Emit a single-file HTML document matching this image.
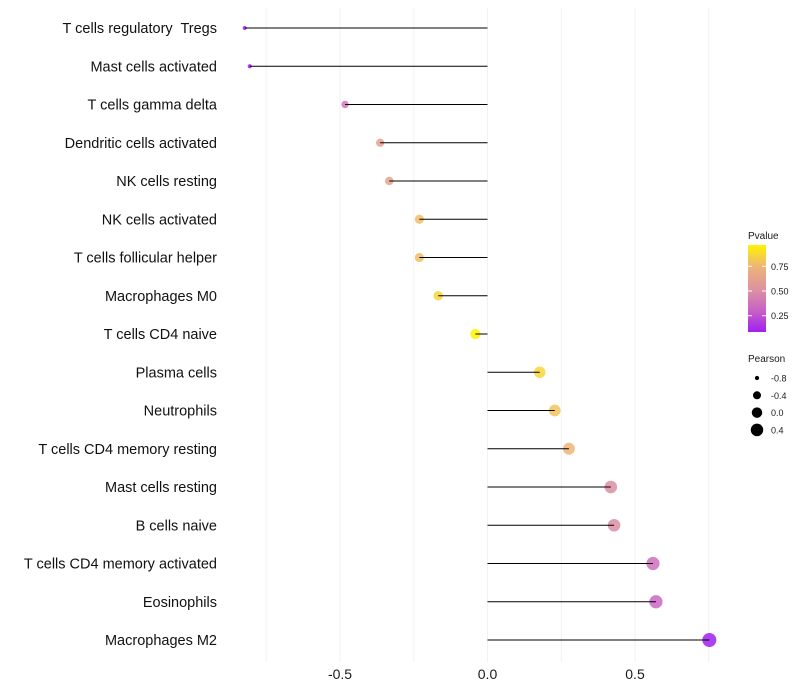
<!DOCTYPE html>
<html><head><meta charset="utf-8"><style>
body{margin:0;background:#fff}
svg{display:block;font-family:"Liberation Sans",sans-serif}
</style></head><body>
<svg id="chart" width="800" height="700"></svg>
<script>
const categories=["T cells regulatory  Tregs","Mast cells activated","T cells gamma delta","Dendritic cells activated","NK cells resting","NK cells activated","T cells follicular helper","Macrophages M0","T cells CD4 naive","Plasma cells","Neutrophils","T cells CD4 memory resting","Mast cells resting","B cells naive","T cells CD4 memory activated","Eosinophils","Macrophages M2"];
const pearson=[-0.823,-0.806,-0.483,-0.364,-0.333,-0.231,-0.231,-0.167,-0.041,0.177,0.228,0.276,0.418,0.429,0.561,0.571,0.752];
const pvalue=[0.08,0.08,0.4,0.62,0.64,0.78,0.78,0.86,0.97,0.86,0.8,0.74,0.5,0.5,0.36,0.33,0.09];
const xTicks=[-0.5,0,0.5];
const xTickLabels=["-0.5","0.0","0.5"];
const pTicks=[0.25,0.5,0.75];
const sizeLegend=[-0.8,-0.4,0.0,0.4];

const NS="http://www.w3.org/2000/svg";
const svg=document.getElementById('chart');
function mk(t,a,p){const e=document.createElementNS(NS,t);for(const k in a)e.setAttribute(k,a[k]);(p||svg).appendChild(e);return e;}
const x=v=>487.5+v*295;
const y=i=>28+i*38.25;
const r=v=>Math.sqrt(4+Math.max(0,(v+0.82))/1.57*45);
const stops=[[0.09,[160,32,240]],[0.3,[200,96,200]],[0.5,[220,143,164]],[0.75,[238,182,118]],[0.96,[255,242,0]]];
function col(p){if(p<=stops[0][0])return `rgb(${stops[0][1]})`;for(let i=1;i<stops.length;i++){if(p<=stops[i][0]){const a=stops[i-1],b=stops[i],t=(p-a[0])/(b[0]-a[0]);return `rgb(${a[1].map((c,j)=>Math.round(c+(b[1][j]-c)*t))})`;}}return `rgb(${stops[4][1]})`;}

[-0.75,-0.5,-0.25,0,0.25,0.5,0.75].forEach(v=>{
 const g=mk('line',{x1:x(v),x2:x(v),y1:8,y2:662,stroke:'#f2f2f2','stroke-width':1});
 
 
});
xTicks.forEach((v,i)=>{
 const t=mk('text',{x:x(v),y:679,'text-anchor':'middle','font-size':14,fill:'#1a1a1a'});
 t.textContent=xTickLabels[i];
 
 
});
categories.forEach((c,i)=>{
 const t=mk('text',{x:217,y:y(i)+5,'text-anchor':'end','font-size':14.5,fill:'#111'});
 t.textContent=c;t.style.whiteSpace='pre';
 
 
 const d=mk('circle',{cx:x(pearson[i]),cy:y(i),r:r(pearson[i]),fill:col(pvalue[i]),'fill-opacity':0.85});
 
 
 const l=mk('line',{x1:x(0),x2:x(pearson[i]),y1:y(i),y2:y(i),stroke:'#000','stroke-width':1});
 
 
});
const defs=mk('defs',{});const lg=mk('linearGradient',{id:'pg',x1:0,y1:1,x2:0,y2:0},defs);
stops.forEach(s=>mk('stop',{offset:(s[0]-0.09)/0.87,'stop-color':`rgb(${s[1]})`},lg));
const lt=mk('text',{x:748,y:239,'font-size':10,fill:'#1a1a1a'});lt.textContent='Pvalue';


const bar=mk('rect',{x:748,y:245,width:18,height:87,fill:'url(#pg)'});


const py=p=>291-(p-0.5)*98.8;
pTicks.forEach(p=>{
 mk('line',{x1:748,x2:752,y1:py(p),y2:py(p),stroke:'#fff'});mk('line',{x1:762,x2:766,y1:py(p),y2:py(p),stroke:'#fff'});
 const t=mk('text',{x:771,y:py(p)+3.5,'font-size':9,fill:'#1a1a1a'});t.textContent=p.toFixed(2);
 
 
});
const st=mk('text',{x:748,y:362,'font-size':10,fill:'#1a1a1a'});st.textContent='Pearson';


sizeLegend.forEach((v,i)=>{
 const cy=378+i*17.3;
 const c=mk('circle',{cx:757,cy:cy,r:r(v),fill:'#000'});
 
 
 const t=mk('text',{x:771,y:cy+3.5,'font-size':9,fill:'#1a1a1a'});t.textContent=v.toFixed(1);
 
 
});
</script>
</body></html>
